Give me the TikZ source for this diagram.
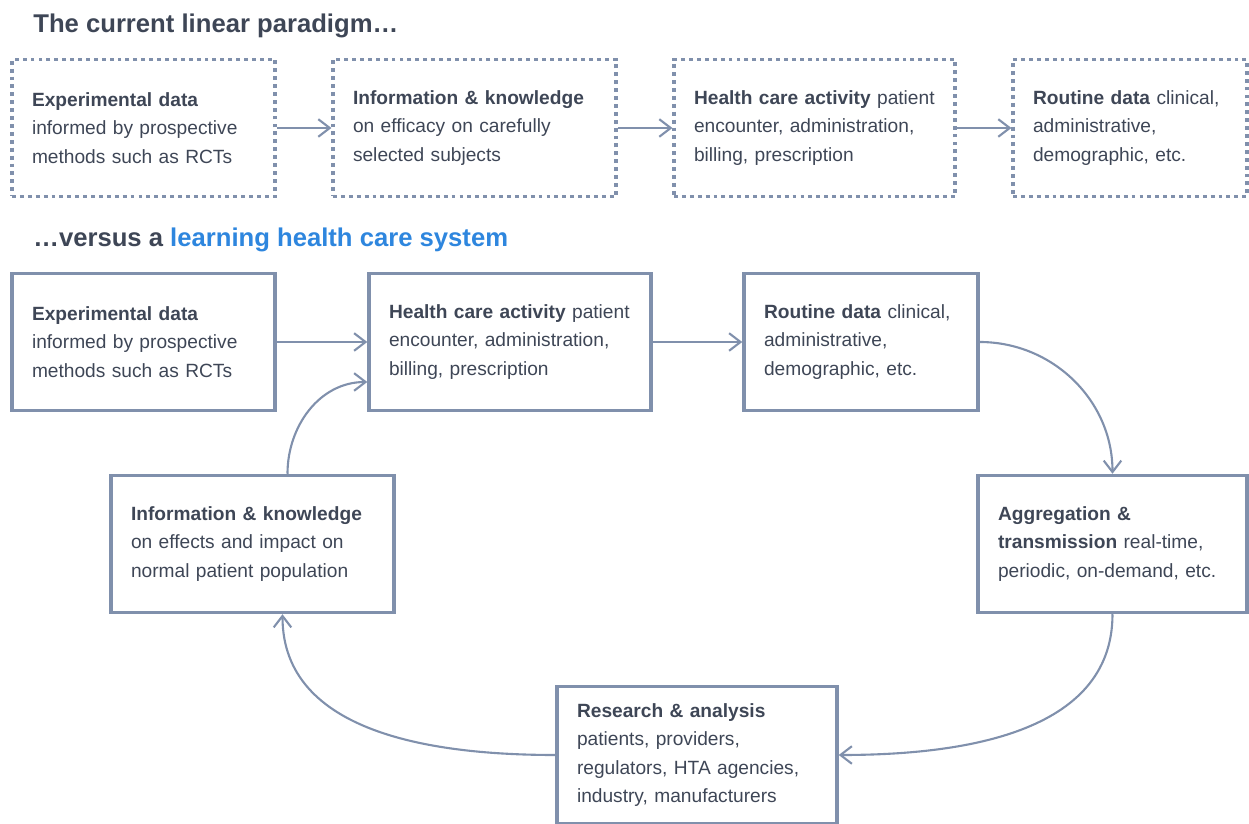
\documentclass[tikz,border=0pt]{standalone}
\usepackage{fontspec}
\setmainfont{Liberation Sans}
\usetikzlibrary{arrows.meta}
\definecolor{lhsline}{RGB}{128,144,172}
\definecolor{lhstext}{RGB}{62,70,86}
\definecolor{lhsblue}{RGB}{46,134,222}
\tikzset{
  box/.style={draw=lhsline, line width=2pt, align=left, inner xsep=0.4cm, inner ysep=0pt,
    minimum height=2.74cm, text=lhstext, font=\fontsize{10.9pt}{16.2pt}\selectfont},
  dotbox/.style={box, line width=1.8pt, dash pattern=on 2.2pt off 2.3pt},
  flow/.style={draw=lhsline, line width=1.2pt, -{Straight Barb[length=6.5pt,width=10pt]}},
  heading/.style={anchor=base west, inner sep=0pt, text=lhstext,
    font=\fontsize{14.6pt}{17pt}\selectfont\bfseries}
}
\begin{document}
\begin{tikzpicture}[x=0.02cm, y=-0.02cm]
  \useasboundingbox (0,0) rectangle (1249,824);

  % the current linear paradigm
  \node[heading] (linear) at (33,33) {The current linear paradigm\dots};
  \node[dotbox, text width=4.46cm] (expA) at (143.5,128)
    {\textbf{Experimental data}\\informed by prospective\\methods such as RCTs};
  \node[dotbox, text width=4.86cm] (infoA) at (474.5,128)
    {\textbf{Information \& knowledge}\\on efficacy on carefully\\selected subjects};
  \node[dotbox, text width=4.82cm] (careA) at (814.5,128)
    {\textbf{Health care activity} patient\\encounter, administration,\\billing, prescription};
  \node[dotbox, text width=3.88cm] (routA) at (1130,128)
    {\textbf{Routine data} clinical,\\administrative,\\demographic, etc.};
  \draw[flow] (expA) -- (infoA);
  \draw[flow] (infoA) -- (careA);
  \draw[flow] (careA) -- (routA);

  % learning health care system
  \node[heading] (learning) at (33,247) {\dots versus a \textcolor{lhsblue}{learning health care system}};
  \node[box, text width=4.46cm] (expB) at (143.5,342)
    {\textbf{Experimental data}\\informed by prospective\\methods such as RCTs};
  \node[box, text width=4.84cm] (careB) at (510,342)
    {\textbf{Health care activity} patient\\encounter, administration,\\billing, prescription};
  \node[box, text width=3.88cm] (routB) at (861,342)
    {\textbf{Routine data} clinical,\\administrative,\\demographic, etc.};
  \node[box, text width=4.58cm] (aggr) at (1112.5,544)
    {\textbf{Aggregation \&}\\\textbf{transmission} real-time,\\periodic, on-demand, etc.};
  \node[box, text width=4.8cm] (research) at (697,755)
    {\textbf{Research \& analysis}\\patients, providers,\\regulators, HTA agencies,\\industry, manufacturers};
  \node[box, text width=4.86cm] (infoB) at (252.5,544)
    {\textbf{Information \& knowledge}\\on effects and impact on\\normal patient population};

  \draw[flow] (expB) -- (careB);
  \draw[flow] (careB) -- (routB);
  \draw[flow] (routB.east) to[out=0, in=90] (aggr.north);
  \draw[flow] (aggr.south) to[out=-90, in=0] (research.east);
  \draw[flow] (research.west) to[out=180, in=-90] ([xshift=0.6cm]infoB.south);
  \draw[flow] ([xshift=0.7cm]infoB.north) to[out=90, in=180] ([yshift=-0.8cm]careB.west);
\end{tikzpicture}
\end{document}
